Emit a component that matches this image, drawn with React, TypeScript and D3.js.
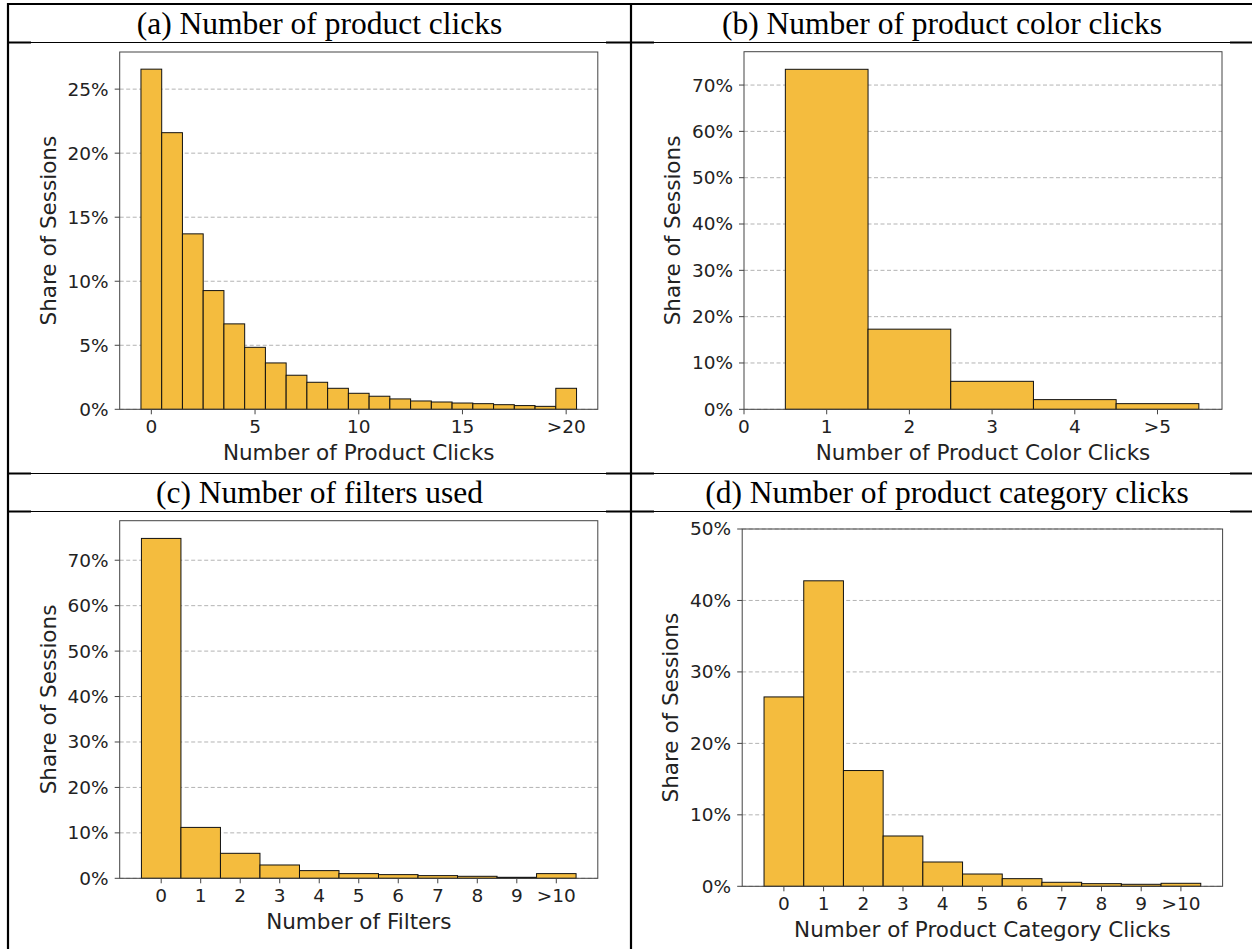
import React from "react";
import * as d3 from "d3";

// ---------- Data ----------
const clicksLabels = ["0", "5", "10", "15", ">20"];
const clicksTickPos = [0, 5, 10, 15, 20];
const clicksValues = [26.56, 21.6, 13.7, 9.27, 6.67, 4.84, 3.62, 2.66, 2.11, 1.64, 1.25, 1.02, 0.81, 0.65, 0.57, 0.49, 0.44, 0.36, 0.29, 0.23, 1.64];
const clicksYTicks = [0, 5, 10, 15, 20, 25];

const colorLabels = ["0", "1", "2", "3", "4", ">5"];
const colorTickPos = [0, 1, 2, 3, 4, 5];
const colorBins = [1, 2, 3, 4, 5];
const colorValues = [73.4, 17.3, 6.04, 2.09, 1.22];
const colorYTicks = [0, 10, 20, 30, 40, 50, 60, 70];

const filterLabels = ["0", "1", "2", "3", "4", "5", "6", "7", "8", "9", ">10"];
const filterValues = [74.8, 11.2, 5.5, 2.93, 1.69, 1.03, 0.81, 0.59, 0.44, 0.22, 1.03];
const filterYTicks = [0, 10, 20, 30, 40, 50, 60, 70];

const categoryLabels = ["0", "1", "2", "3", "4", "5", "6", "7", "8", "9", ">10"];
const categoryValues = [26.5, 42.75, 16.2, 7.04, 3.4, 1.72, 1.07, 0.56, 0.37, 0.28, 0.42];
const categoryYTicks = [0, 10, 20, 30, 40, 50];

const titles = [
  "(a) Number of product clicks",
  "(b) Number of product color clicks",
  "(c) Number of filters used",
  "(d) Number of product category clicks",
];
const xLabels = [
  "Number of Product Clicks",
  "Number of Product Color Clicks",
  "Number of Filters",
  "Number of Product Category Clicks",
];
const yLabel = "Share of Sessions";

const BAR = "#F4BC3E";
const SANS = "DejaVu Sans, sans-serif";
const SERIF = "Liberation Serif, Times New Roman, serif";

type PanelProps = {
  rect: { l: number; r: number; t: number; b: number };
  xDomain: [number, number];
  yDomain: [number, number];
  bins: number[];
  values: number[];
  tickPos: number[];
  tickLabels: string[];
  yTicks: number[];
  xLabel: string;
};

function Panel(p: PanelProps) {
  const x = d3.scaleLinear().domain(p.xDomain).range([p.rect.l, p.rect.r]);
  const y = d3.scaleLinear().domain(p.yDomain).range([p.rect.b, p.rect.t]);
  const axisColor = "#444";
  const midX = (p.rect.l + p.rect.r) / 2;
  const midY = (p.rect.t + p.rect.b) / 2;
  return (
    <g>
      {p.yTicks.map((t) => (
        <line key={"g" + t} x1={p.rect.l} x2={p.rect.r} y1={y(t)} y2={y(t)} stroke="#b3b3b3" strokeWidth={1} strokeDasharray="4,2.5" />
      ))}
      {p.bins.map((b, i) => (
        <rect key={"b" + i} x={x(b - 0.5)} y={y(p.values[i])} width={x(b + 0.5) - x(b - 0.5)} height={y(0) - y(p.values[i])} fill={BAR} stroke="#111" strokeWidth={1} />
      ))}
      <rect x={p.rect.l} y={p.rect.t} width={p.rect.r - p.rect.l} height={p.rect.b - p.rect.t} fill="none" stroke={axisColor} strokeWidth={1} />
      {p.yTicks.map((t) => (
        <g key={"yt" + t}>
          <line x1={p.rect.l - 5} x2={p.rect.l} y1={y(t)} y2={y(t)} stroke={axisColor} />
          <text x={p.rect.l - 11} y={y(t)} dy="0.35em" textAnchor="end" fontFamily={SANS} fontSize={18.5} fill="#222">{t + "%"}</text>
        </g>
      ))}
      {p.tickPos.map((t, i) => (
        <g key={"xt" + i}>
          <line x1={x(t)} x2={x(t)} y1={p.rect.b} y2={p.rect.b + 5} stroke={axisColor} />
          <text x={x(t)} y={p.rect.b + 24} textAnchor="middle" fontFamily={SANS} fontSize={18.5} fill="#222">{p.tickLabels[i]}</text>
        </g>
      ))}
      <text x={midX} y={p.rect.b + 51} textAnchor="middle" fontFamily={SANS} fontSize={21.5} fill="#222">{p.xLabel}</text>
      <text transform={`translate(${p.rect.l - 64},${midY}) rotate(-90)`} textAnchor="middle" fontFamily={SANS} fontSize={21.5} fill="#222">{yLabel}</text>
    </g>
  );
}

export default function App() {
  const idx = (n: number) => d3.range(n);
  return (
    <svg width={1252} height={949} style={{ position: "absolute", left: 0, top: 0, background: "#fff" }}>
      <rect width={1252} height={949} fill="#fff" />
      {/* table lines */}
      <line x1={7} x2={1252} y1={4} y2={4} stroke="#000" strokeWidth={2.2} />
      <line x1={8} x2={8} y1={3} y2={949} stroke="#000" strokeWidth={2.2} />
      <line x1={631} x2={631} y1={3} y2={949} stroke="#000" strokeWidth={2.2} />
      {[42.5, 473.5, 511.5].map((yy) => (
        <g key={yy}>
          <line x1={8} x2={1252} y1={yy} y2={yy} stroke="#000" strokeWidth={1} />
          <line x1={8} x2={31} y1={yy} y2={yy} stroke="#000" strokeWidth={2} />
          <line x1={606} x2={654} y1={yy} y2={yy} stroke="#000" strokeWidth={2} />
          <line x1={1230} x2={1252} y1={yy} y2={yy} stroke="#000" strokeWidth={2} />
        </g>
      ))}
      {/* titles */}
      <text x={319.5} y={34} textAnchor="middle" fontFamily={SERIF} fontSize={31.5}>{titles[0]}</text>
      <text x={942} y={34} textAnchor="middle" fontFamily={SERIF} fontSize={31.5}>{titles[1]}</text>
      <text x={319.5} y={503} textAnchor="middle" fontFamily={SERIF} fontSize={31.5}>{titles[2]}</text>
      <text x={947} y={503} textAnchor="middle" fontFamily={SERIF} fontSize={31.5}>{titles[3]}</text>

      <Panel rect={{ l: 119.7, r: 597.8, t: 52, b: 409.3 }} xDomain={[-1.525, 21.525]} yDomain={[0, 27.9]}
        bins={idx(clicksValues.length)} values={clicksValues} tickPos={clicksTickPos} tickLabels={clicksLabels}
        yTicks={clicksYTicks} xLabel={xLabels[0]} />
      <Panel rect={{ l: 744, r: 1222, t: 51.7, b: 409.3 }} xDomain={[0, 5.78]} yDomain={[0, 77.2]}
        bins={colorBins} values={colorValues} tickPos={colorTickPos} tickLabels={colorLabels}
        yTicks={colorYTicks} xLabel={xLabels[1]} />
      <Panel rect={{ l: 119.7, r: 597.8, t: 520.7, b: 878.3 }} xDomain={[-1.05, 11.05]} yDomain={[0, 78.7]}
        bins={idx(filterValues.length)} values={filterValues} tickPos={idx(filterLabels.length)} tickLabels={filterLabels}
        yTicks={filterYTicks} xLabel={xLabels[2]} />
      <Panel rect={{ l: 742.2, r: 1222.6, t: 529, b: 886.3 }} xDomain={[-1.05, 11.05]} yDomain={[0, 50]}
        bins={idx(categoryValues.length)} values={categoryValues} tickPos={idx(categoryLabels.length)} tickLabels={categoryLabels}
        yTicks={categoryYTicks} xLabel={xLabels[3]} />
    </svg>
  );
}
